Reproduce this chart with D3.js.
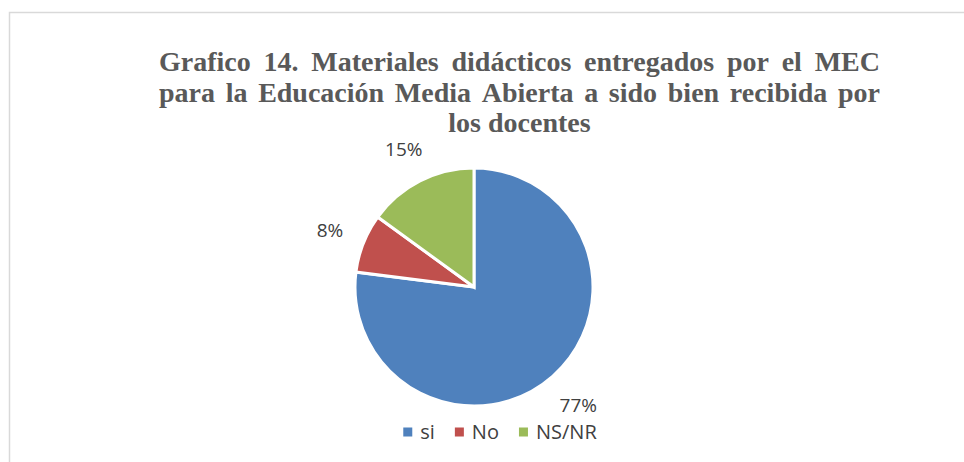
<!DOCTYPE html>
<html>
<head>
<meta charset="utf-8">
<script src="https://cdn.jsdelivr.net/npm/d3@7"></script>
<style>
  body { margin: 0; background: #fff; }
  svg { display: block; }
</style>
</head>
<body>
<div id="chart"></div>
<script>
// data
var categories = ["si", "No", "NS/NR"];
var values = [77, 8, 15];
var labels = ["77%", "8%", "15%"];
var colors = ["#4f81bd", "#c0504d", "#9bbb59"];
var titleLines = [
  "Grafico 14. Materiales didácticos  entregados por el MEC",
  "para la Educación Media Abierta a sido bien recibida por",
  "los docentes"
];

var width = 964, height = 462;

var svg = d3.select("#chart")
            .append("svg")
            .attr("width", width)
            .attr("height", height);

// chart frame (right and bottom edges fall outside the picture)
svg.append("rect")
   .attr("x", 9.5)
   .attr("y", 12.5)
   .attr("width", 1000)
   .attr("height", 500)
   .attr("fill", "none")
   .attr("stroke", "#d9d9d9")
   .attr("stroke-width", 1.5);

// Title, first two lines justified like the original
var titleLeft = 159, titleRight = 880, titleTop = 71, lineStep = 30.5;
var title = svg.append("g")
   .attr("font-family", "'Liberation Serif', 'Times New Roman', serif")
   .attr("font-weight", "bold")
   .attr("font-size", "28px")
   .attr("fill", "#595959");

titleLines.forEach(function(line, i) {
  var y = titleTop + i * lineStep;
  if (i < titleLines.length - 1) {
    var words = line.split(/\s+/);
    var nodes = words.map(function(w) {
      return title.append("text").attr("y", y).text(w);
    });
    var widths = nodes.map(function(n) { return n.node().getComputedTextLength(); });
    var gap = (titleRight - titleLeft - d3.sum(widths)) / (words.length - 1);
    var x = titleLeft;
    nodes.forEach(function(n, j) {
      n.attr("x", x);
      x += widths[j] + gap;
    });
  } else {
    title.append("text")
         .attr("x", (titleLeft + titleRight) / 2)
         .attr("y", y)
         .attr("text-anchor", "middle")
         .text(line);
  }
});

// Pie
var cx = 474, cy = 287, radius = 119;
var pie = d3.pie().sort(null).value(function(d) { return d; });
var arcs = pie(values);
var arc = d3.arc().innerRadius(0).outerRadius(radius);

var g = svg.append("g")
   .attr("transform", "translate(" + cx + "," + cy + ")");

g.selectAll("path")
 .data(arcs)
 .enter().append("path")
 .attr("d", arc)
 .attr("fill", function(d, i) { return colors[i]; })
 .attr("stroke", "#fff")
 .attr("stroke-width", 3)
 .attr("stroke-linejoin", "miter");

// data labels, outside end
var labelFont = "'Open Sans', 'Noto Sans', sans-serif";
var labelGap = 21;
g.selectAll(".lbl")
 .data(arcs)
 .enter().append("text")
 .attr("class", "lbl")
 .attr("font-family", labelFont)
 .attr("font-size", "19px")
 .attr("fill", "#404040")
 .attr("text-anchor", "middle")
 .attr("dominant-baseline", "central")
 .text(function(d, i) { return labels[i]; })
 .each(function(d) {
   var a = (d.startAngle + d.endAngle) / 2;
   var hw = this.getComputedTextLength() / 2, hh = 7;
   var dist = radius + labelGap + Math.abs(Math.sin(a)) * hw + Math.abs(Math.cos(a)) * hh;
   d3.select(this)
     .attr("x", Math.sin(a) * dist)
     .attr("y", -Math.cos(a) * dist);
 });

// Legend
var legendRectSize = 9, legendSpacing = 8, itemGap = 20;
var legend = svg.append("g");
var lx = 0;
categories.forEach(function(c, i) {
  var item = legend.append("g").attr("transform", "translate(" + lx + ",0)");
  item.append("rect")
      .attr("x", 0)
      .attr("y", -legendRectSize / 2)
      .attr("width", legendRectSize)
      .attr("height", legendRectSize)
      .attr("fill", colors[i]);
  var t = item.append("text")
      .attr("x", legendRectSize + legendSpacing)
      .attr("y", 7)
      .attr("font-family", labelFont)
      .attr("font-size", "20px")
      .attr("fill", "#404040")
      .text(c);
  lx += legendRectSize + legendSpacing + t.node().getComputedTextLength() + itemGap;
});
var legendWidth = lx - itemGap;
legend.attr("transform", "translate(" + (500 - legendWidth / 2) + ",432)");
</script>
</body>
</html>
